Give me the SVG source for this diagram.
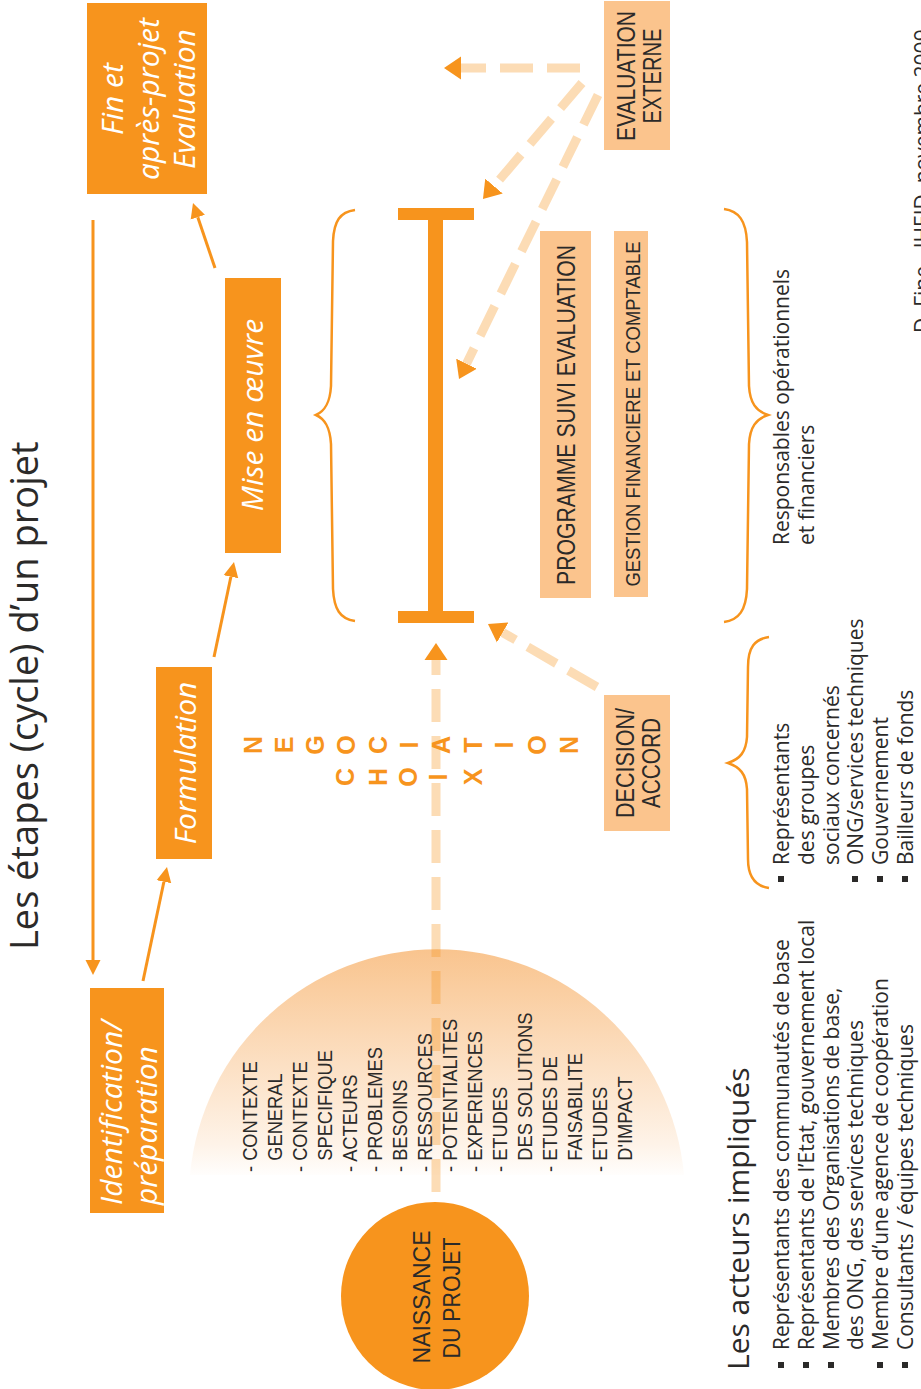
<svg xmlns="http://www.w3.org/2000/svg" width="921" height="1389" viewBox="0 0 921 1389">
<defs>
  <linearGradient id="dome" gradientUnits="userSpaceOnUse" x1="440" y1="0" x2="210" y2="0">
    <stop offset="0" stop-color="#F9C48E"/>
    <stop offset="0.85" stop-color="#FEF3E8"/>
    <stop offset="1" stop-color="#FFFFFF"/>
  </linearGradient>
  <marker id="ah" markerUnits="userSpaceOnUse" viewBox="0 -8 16 16" markerWidth="16" markerHeight="16" refX="0" refY="0" orient="auto">
    <path d="M0,-7.5 L15,0 L0,7.5 Z" fill="#F7941D"/>
  </marker>
  <marker id="ahb" markerUnits="userSpaceOnUse" viewBox="0 -12 18 24" markerWidth="18" markerHeight="24" refX="0" refY="0" orient="auto">
    <path d="M0,-11.5 L17,0 L0,11.5 Z" fill="#F7941D"/>
  </marker>
</defs>
<style>
  .stage{fill:#F7941D}
  .st{font-family:'Open Sans','Liberation Sans',sans-serif;font-style:italic;font-size:30px;fill:#FFFFFF}
  .peach{fill:#FBC48D}
  .cap{font-family:'Liberation Sans',Arial,sans-serif;fill:#2B2A29}
  .body{font-family:'Open Sans','Liberation Sans',sans-serif;fill:#2B2A29;font-size:21px}
  .flow{stroke:#F7941D;stroke-width:3;fill:none}
  .dash{stroke:#F7941D;stroke-opacity:0.33;stroke-width:9;fill:none;stroke-dasharray:33 14}
  .brace{stroke:#F7941D;stroke-width:2.5;fill:none}
  .nego{font-family:'Liberation Sans',Arial,sans-serif;font-weight:bold;font-size:25px;fill:#F7941D;text-anchor:middle}
  .bul{fill:#2B2A29}
  .mid{text-anchor:middle}
</style>
<g transform="translate(0,1389) rotate(-90)">
  <text id="title" class="body" x="439" y="38" style="font-size:38px">Les étapes (cycle) d’un projet</text>

  <g id="dome-list">
    <path d="M214,190 A248,248 0 0 1 214,684 Z" fill="url(#dome)"/>
    <g class="cap" font-size="21" transform="translate(217,0) scale(0.87,1)">
      <text x="0" y="257">- CONTEXTE</text>
      <text x="13" y="282">GENERAL</text>
      <text x="0" y="307">- CONTEXTE</text>
      <text x="13" y="332">SPECIFIQUE</text>
      <text x="0" y="357">- ACTEURS</text>
      <text x="0" y="382">- PROBLEMES</text>
      <text x="0" y="407">- BESOINS</text>
      <text x="0" y="432">- RESSOURCES</text>
      <text x="0" y="457">- POTENTIALITES</text>
      <text x="0" y="482">- EXPERIENCES</text>
      <text x="0" y="507">- ETUDES</text>
      <text x="13" y="532">DES SOLUTIONS</text>
      <text x="0" y="557">- ETUDES DE</text>
      <text x="13" y="582">FAISABILITE</text>
      <text x="0" y="607">- ETUDES</text>
      <text x="13" y="632">D'IMPACT</text>
    </g>
  </g>

  <g id="braces">
    <path class="brace" d="M768,355 C770,340 780,334 800,333 L945,331 C962,330 970,325 974,316 C978,325 986,330 1003,331 L1148,333 C1168,334 1177,340 1179,355"/>
    <path class="brace" d="M767,724 C769,739 779,746 800,747 L945,749 C962,750 970,756 974,768 C978,756 986,750 1003,749 L1147,747 C1168,746 1178,739 1180,724"/>
    <path class="brace" d="M501,769 C503,755 512,748 530,748 L600,747 C615,746 622,740 626,728 C630,740 637,746 652,747 L722,748 C742,748 750,755 752,769"/>
  </g>

  <g id="tbar" fill="#F7941D">
    <rect x="766" y="428" width="415" height="15"/>
    <rect x="766" y="398" width="12" height="76"/>
    <rect x="1169" y="398" width="12" height="76"/>
  </g>

  <g id="naissance">
    <circle cx="93" cy="435" r="94" fill="#F7941D"/>
    <text class="cap mid" x="92" y="430" font-size="24" textLength="133" lengthAdjust="spacingAndGlyphs">NAISSANCE</text>
    <text class="cap mid" x="91" y="460" font-size="24" textLength="121" lengthAdjust="spacingAndGlyphs">DU PROJET</text>
  </g>

  <g id="identification">
    <rect class="stage" x="176" y="90" width="225" height="74"/>
    <text class="st" x="184" y="122">Identification/</text>
    <text class="st" x="184" y="157">préparation</text>
  </g>
  <g id="formulation">
    <rect class="stage" x="530" y="156" width="192" height="56"/>
    <text class="st mid" x="626" y="196">Formulation</text>
  </g>
  <g id="mise">
    <rect class="stage" x="836" y="225" width="275" height="56"/>
    <text class="st mid" x="974" y="263">Mise en œuvre</text>
  </g>
  <g id="fin">
    <rect class="stage" x="1195" y="87" width="191" height="120"/>
    <text class="st mid" x="1290" y="123">Fin et</text>
    <text class="st mid" x="1290" y="159">après-projet</text>
    <text class="st mid" x="1290" y="195">Evaluation</text>
  </g>

  <g id="programme">
    <rect class="peach" x="791" y="540" width="367" height="51"/>
    <text class="cap mid" x="974" y="575" font-size="25" textLength="340" lengthAdjust="spacingAndGlyphs">PROGRAMME SUIVI EVALUATION</text>
  </g>
  <g id="gestion">
    <rect class="peach" x="792" y="614" width="366" height="34"/>
    <text class="cap mid" x="975" y="640" font-size="21" textLength="345" lengthAdjust="spacingAndGlyphs">GESTION FINANCIERE ET COMPTABLE</text>
  </g>
  <g id="evaluation-externe">
    <rect class="peach" x="1239" y="604" width="149" height="66"/>
    <text class="cap mid" x="1313" y="635" font-size="25" textLength="130" lengthAdjust="spacingAndGlyphs">EVALUATION</text>
    <text class="cap mid" x="1313" y="661" font-size="25" textLength="95" lengthAdjust="spacingAndGlyphs">EXTERNE</text>
  </g>
  <g id="decision">
    <rect class="peach" x="558" y="604" width="136" height="66"/>
    <text class="cap mid" x="626" y="634" font-size="25" textLength="110" lengthAdjust="spacingAndGlyphs">DECISION/</text>
    <text class="cap mid" x="626" y="660" font-size="25" textLength="90" lengthAdjust="spacingAndGlyphs">ACCORD</text>
  </g>

  <g id="negociation">
    <text class="nego" x="644" y="262">N</text>
    <text class="nego" x="644" y="293">E</text>
    <text class="nego" x="644" y="324">G</text>
    <text class="nego" x="644" y="355">O</text>
    <text class="nego" x="644" y="387">C</text>
    <text class="nego" x="644" y="418">I</text>
    <text class="nego" x="644" y="450">A</text>
    <text class="nego" x="644" y="482">T</text>
    <text class="nego" x="644" y="513">I</text>
    <text class="nego" x="644" y="546">O</text>
    <text class="nego" x="644" y="578">N</text>
    <text class="nego" x="612" y="354">C</text>
    <text class="nego" x="612" y="387">H</text>
    <text class="nego" x="612" y="417">O</text>
    <text class="nego" x="612" y="447">I</text>
    <text class="nego" x="612" y="482">X</text>
  </g>

  <g id="connectors">
    <line class="flow" x1="408" y1="143" x2="507.3" y2="163.9" marker-end="url(#ah)"/>
    <line class="flow" x1="732" y1="214" x2="812.3" y2="230.9" marker-end="url(#ah)"/>
    <line class="flow" x1="1121" y1="215" x2="1171.8" y2="197.8" marker-end="url(#ah)"/>
    <line class="flow" x1="1169" y1="93" x2="429" y2="93" marker-end="url(#ah)"/>
    <line class="dash" x1="197" y1="436" x2="729" y2="436" marker-end="url(#ahb)"/>
    <line class="dash" x1="1321" y1="580" x2="1321" y2="461" marker-end="url(#ahb)"/>
    <line class="dash" x1="1306" y1="582" x2="1202.9" y2="494" marker-end="url(#ahb)"/>
    <line class="dash" x1="1294" y1="598" x2="1025.3" y2="466.5" marker-end="url(#ahb)"/>
    <line class="dash" x1="702" y1="597" x2="756.5" y2="502.7" marker-end="url(#ahb)"/>
  </g>

  <g id="acteurs">
    <text class="body" x="19" y="749" style="font-size:30px">Les acteurs impliqués</text>
    <rect class="bul" x="21" y="778" width="6" height="6"/>
    <rect class="bul" x="21" y="803" width="6" height="6"/>
    <rect class="bul" x="21" y="828" width="6" height="6"/>
    <rect class="bul" x="21" y="877" width="6" height="6"/>
    <rect class="bul" x="21" y="902" width="6" height="6"/>
    <text class="body" x="39" y="789">Représentants des communautés de base</text>
    <text class="body" x="39" y="814">Représentants de l’Etat, gouvernement local</text>
    <text class="body" x="39" y="839">Membres des Organisations de base,</text>
    <text class="body" x="39" y="863">des ONG, des services techniques</text>
    <text class="body" x="39" y="888">Membre d’une agence de coopération</text>
    <text class="body" x="39" y="913">Consultants / équipes techniques</text>
  </g>

  <g id="acteurs-decision">
    <rect class="bul" x="507" y="778" width="6" height="6"/>
    <rect class="bul" x="507" y="852" width="6" height="6"/>
    <rect class="bul" x="507" y="877" width="6" height="6"/>
    <rect class="bul" x="507" y="902" width="6" height="6"/>
    <text class="body" x="524" y="789">Représentants</text>
    <text class="body" x="524" y="814">des groupes</text>
    <text class="body" x="524" y="839">sociaux concernés</text>
    <text class="body" x="524" y="863">ONG/services techniques</text>
    <text class="body" x="524" y="888">Gouvernement</text>
    <text class="body" x="524" y="913">Bailleurs de fonds</text>
  </g>

  <g id="responsables">
    <text class="body" x="844" y="789">Responsables opérationnels</text>
    <text class="body" x="844" y="814">et financiers</text>
  </g>

  <text id="credit" class="body" x="1056" y="930">D. Fine - IHEID, novembre 2009</text>
</g>
</svg>
